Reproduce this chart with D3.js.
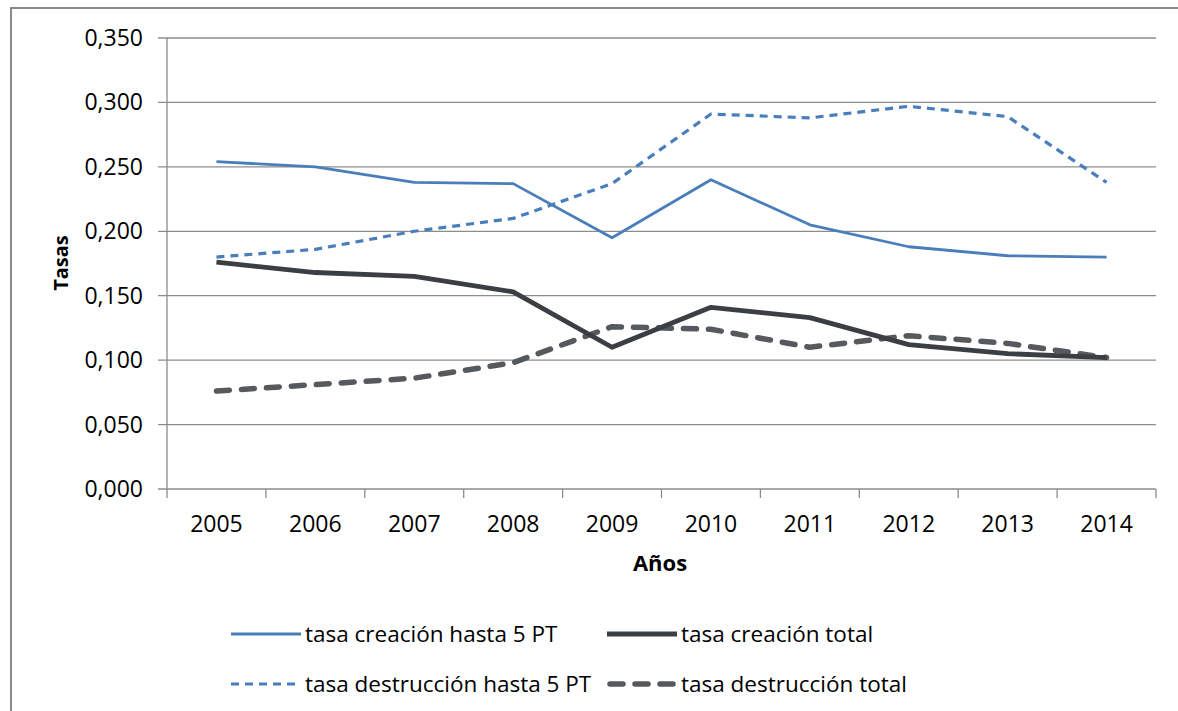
<!DOCTYPE html>
<html>
<head>
<meta charset="utf-8">
<script src="https://cdn.jsdelivr.net/npm/d3@7"></script>
<style>
  body { margin: 0; background: #fff; }
  text { font-family: "Open Sans", "Noto Sans", sans-serif; fill: #000; }
</style>
</head>
<body>
<svg id="chart" width="1178" height="711"></svg>
<script>
// datos
var years = ["2005", "2006", "2007", "2008", "2009", "2010", "2011", "2012", "2013", "2014"];
var creacion5 = [0.254, 0.250, 0.238, 0.237, 0.195, 0.240, 0.205, 0.188, 0.181, 0.180];
var creacionTotal = [0.176, 0.168, 0.165, 0.153, 0.110, 0.141, 0.133, 0.112, 0.105, 0.102];
var destruccion5 = [0.180, 0.186, 0.200, 0.210, 0.237, 0.291, 0.288, 0.297, 0.289, 0.238];
var destruccionTotal = [0.076, 0.081, 0.086, 0.098, 0.126, 0.124, 0.110, 0.119, 0.113, 0.102];
var yTicks = [0, 0.05, 0.1, 0.15, 0.2, 0.25, 0.3, 0.35];

var series = [
  {name: "tasa creación hasta 5 PT", values: creacion5, color: "#4a7ebb", width: 2.8, dash: null, cap: "butt"},
  {name: "tasa creación total", values: creacionTotal, color: "#3b3e42", width: 4.8, dash: null, cap: "butt"},
  {name: "tasa destrucción hasta 5 PT", values: destruccion5, color: "#4a7ebb", width: 3.2, dash: "8,6", cap: "butt"},
  {name: "tasa destrucción total", values: destruccionTotal, color: "#56595d", width: 5.5, dash: "13,12", cap: "round"}
];

var svg = d3.select("#chart");

// borde exterior
svg.append("path")
  .attr("d", "M11,711 L11,8 L1178,8")
  .attr("fill", "none")
  .attr("stroke", "#8a8a8a")
  .attr("stroke-width", 2);

var plotLeft = 167, plotRight = 1156, plotTop = 38, plotBottom = 489;

var x = d3.scalePoint().domain(years).range([plotLeft, plotRight]).padding(0.5);
var xBand = d3.scaleBand().domain(years).range([plotLeft, plotRight]);
var y = d3.scaleLinear().domain([0, 0.35]).range([plotBottom, plotTop]);

var fmt = function(d) { return d3.format(".3f")(d).replace(".", ","); };

// rejilla horizontal
svg.append("g")
  .selectAll("line")
  .data(yTicks)
  .join("line")
  .attr("x1", plotLeft - 9).attr("x2", plotRight)
  .attr("y1", function(d) { return y(d); })
  .attr("y2", function(d) { return y(d); })
  .attr("stroke", "#8c8c8c")
  .attr("stroke-width", 1.3);

// eje y
svg.append("line")
  .attr("x1", plotLeft).attr("x2", plotLeft)
  .attr("y1", plotTop).attr("y2", plotBottom)
  .attr("stroke", "#8c8c8c").attr("stroke-width", 1.3);

svg.append("g")
  .selectAll("text")
  .data(yTicks)
  .join("text")
  .attr("x", 143)
  .attr("y", function(d) { return y(d); })
  .attr("dy", "0.35em")
  .attr("text-anchor", "end")
  .style("font-size", "23px")
  .text(fmt);

// marcas del eje x en los límites de cada categoría
var bounds = years.map(function(d) { return xBand(d); }).concat([plotRight]);
svg.append("g")
  .selectAll("line")
  .data(bounds)
  .join("line")
  .attr("x1", function(d) { return d; })
  .attr("x2", function(d) { return d; })
  .attr("y1", plotBottom).attr("y2", plotBottom + 9)
  .attr("stroke", "#8c8c8c").attr("stroke-width", 1.3);

svg.append("g")
  .selectAll("text")
  .data(years)
  .join("text")
  .attr("x", function(d) { return x(d); })
  .attr("y", 532)
  .attr("text-anchor", "middle")
  .style("font-size", "23px")
  .text(function(d) { return d; });

// títulos de ejes
svg.append("text")
  .attr("x", 660).attr("y", 571)
  .attr("text-anchor", "middle")
  .style("font-size", "22px").style("font-weight", "bold")
  .text("Años");

svg.append("text")
  .attr("transform", "translate(68,263) rotate(-90)")
  .attr("text-anchor", "middle")
  .style("font-size", "20px").style("font-weight", "bold")
  .text("Tasas");

// líneas
var line = d3.line()
  .x(function(d, i) { return x(years[i]); })
  .y(function(d) { return y(d); });

// orden de dibujo
var drawOrder = [series[0], series[2], series[3], series[1]];
drawOrder.forEach(function(s) {
  svg.append("path")
    .datum(s.values)
    .attr("d", line)
    .attr("fill", "none")
    .attr("stroke", s.color)
    .attr("stroke-width", s.width)
    .attr("stroke-dasharray", s.dash)
    .attr("stroke-linecap", s.cap)
    .attr("stroke-linejoin", "round");
});

// leyenda
var legendPos = [
  {x: 231, y: 634}, {x: 607, y: 634},
  {x: 231, y: 684}, {x: 607, y: 684}
];
series.forEach(function(s, i) {
  var p = legendPos[i];
  var g = svg.append("g").attr("transform", "translate(" + p.x + "," + p.y + ")");
  g.append("line")
    .attr("x1", s.cap == "round" ? 3 : 0).attr("x2", 70)
    .attr("y1", 0).attr("y2", 0)
    .attr("stroke", s.color)
    .attr("stroke-width", s.width)
    .attr("stroke-dasharray", s.dash)
    .attr("stroke-linecap", s.cap);
  g.append("text")
    .attr("x", 74).attr("y", 0)
    .attr("dy", "0.35em")
    .style("font-size", "22.5px")
    .text(s.name);
});
</script>
</body>
</html>
